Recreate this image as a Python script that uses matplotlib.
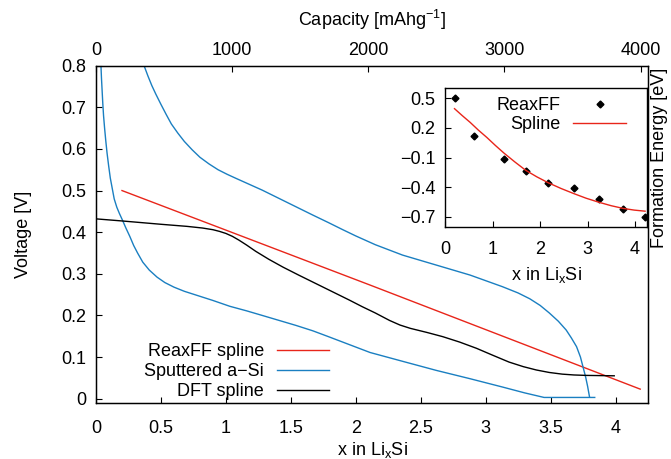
import matplotlib
matplotlib.use('Agg')
import matplotlib.pyplot as plt

plt.rcParams['font.family'] = ['Liberation Sans', 'DejaVu Sans']
plt.rcParams['font.size'] = 13
plt.rcParams['mathtext.default'] = 'regular'

# Voltage profiles vs x in LixSi
reax_x = [0.20, 1.00, 2.11, 3.00, 4.19]
reax_v = [0.500, 0.405, 0.273, 0.166, 0.023]

dft_x = [0.00, 0.20, 0.50, 0.70, 0.82, 0.90, 0.95, 1.00, 1.05, 1.10, 1.16, 1.23,
         1.33, 1.44, 1.56, 1.69, 1.82, 1.95, 2.05, 2.15, 2.26, 2.34, 2.42, 2.55,
         2.67, 2.80, 2.93, 3.05, 3.18, 3.29, 3.39, 3.49, 3.59, 3.68, 3.77, 3.99]
dft_v = [0.432, 0.427, 0.419, 0.414, 0.410, 0.406, 0.402, 0.397, 0.390, 0.381, 0.369, 0.354,
         0.335, 0.316, 0.297, 0.277, 0.257, 0.237, 0.221, 0.206, 0.188, 0.177, 0.169, 0.159,
         0.149, 0.136, 0.121, 0.105, 0.088, 0.077, 0.069, 0.063, 0.059, 0.057, 0.056, 0.055]

# sputtered a-Si: lithiation branch and delithiation branch
sput_dis_x = [0.038, 0.042, 0.047, 0.052, 0.058, 0.066, 0.075, 0.085, 0.097, 0.110,
              0.125, 0.140, 0.160, 0.180, 0.205, 0.230, 0.260, 0.290, 0.320, 0.360,
              0.410, 0.470, 0.530, 0.600, 0.680, 0.770, 0.900, 1.03, 1.16, 1.28,
              1.41, 1.54, 1.67, 1.79, 1.95, 2.11, 2.37, 2.62, 2.88, 3.13, 3.30,
              3.45, 3.84]
sput_dis_v = [0.800, 0.770, 0.740, 0.710, 0.680, 0.650, 0.620, 0.590, 0.560, 0.530,
              0.505, 0.480, 0.460, 0.445, 0.428, 0.410, 0.390, 0.368, 0.350, 0.328,
              0.309, 0.292, 0.279, 0.268, 0.258, 0.249, 0.236, 0.222, 0.211, 0.200,
              0.188, 0.176, 0.163, 0.149, 0.130, 0.111, 0.089, 0.068, 0.048, 0.028, 0.014,
              0.003, 0.003]
sput_chg_x = [0.37, 0.40, 0.43, 0.46, 0.50, 0.54, 0.58, 0.63, 0.68, 0.74, 0.80, 0.87,
              0.94, 1.01, 1.08, 1.18, 1.28, 1.41, 1.54, 1.67, 1.79, 1.90, 2.00, 2.15,
              2.36, 2.62, 2.88, 3.13, 3.25, 3.34, 3.42, 3.49, 3.56, 3.62, 3.66, 3.70,
              3.73, 3.75, 3.77, 3.785, 3.80]
sput_chg_v = [0.800, 0.775, 0.752, 0.732, 0.707, 0.683, 0.660, 0.638, 0.618, 0.598, 0.580, 0.564,
              0.550, 0.539, 0.529, 0.515, 0.501, 0.481, 0.461, 0.441, 0.423, 0.406, 0.391, 0.370,
              0.345, 0.321, 0.297, 0.269, 0.254, 0.240, 0.224, 0.206, 0.186, 0.165, 0.146, 0.125,
              0.100, 0.076, 0.052, 0.030, 0.004]

# inset: formation energy
form_x = [0.20, 0.61, 1.24, 1.70, 2.17, 2.71, 3.24, 3.75, 4.21]
form_e = [0.50, 0.12, -0.115, -0.239, -0.357, -0.41, -0.517, -0.62, -0.70]
fit_x = [0.20, 0.36, 0.53, 0.70, 0.88, 1.06, 1.24, 1.47, 1.70, 1.93, 2.17, 2.44,
         2.71, 2.97, 3.24, 3.50, 3.75, 3.98, 4.21]
fit_e = [0.394, 0.325, 0.255, 0.178, 0.103, 0.022, -0.055, -0.145, -0.23, -0.295, -0.355, -0.413,
         -0.465, -0.512, -0.553, -0.588, -0.615, -0.632, -0.643]

CAP_PER_LI = 954  # mAh/g per Li in LixSi

red = '#e8251a'
blue = '#1a7fc1'


def main():
    fig = plt.figure(figsize=(6.71, 4.59), dpi=100)
    ax = fig.add_axes([0.1431, 0.1214, 0.8226, 0.7355])

    ax.plot(reax_x, reax_v, color=red, lw=1.0, label='ReaxFF spline')
    ax.plot(sput_dis_x, sput_dis_v, color=blue, lw=1.0, label='Sputtered a\u2212Si')
    ax.plot(sput_chg_x, sput_chg_v, color=blue, lw=1.0)
    ax.plot(dft_x, dft_v, color='black', lw=1.0, label='DFT spline')

    ax.set_xlim(0, 4.25)
    ax.set_ylim(-0.011, 0.8)
    ax.set_xticks([0, 0.5, 1, 1.5, 2, 2.5, 3, 3.5, 4])
    ax.set_xticklabels(['0', '0.5', '1', '1.5', '2', '2.5', '3', '3.5', '4'])
    ax.set_yticks([0, 0.1, 0.2, 0.3, 0.4, 0.5, 0.6, 0.7, 0.8])
    ax.set_yticklabels(['0', '0.1', '0.2', '0.3', '0.4', '0.5', '0.6', '0.7', '0.8'])
    ax.tick_params(direction='in', length=4, width=0.8, pad=7, top=False, right=False)
    ax.tick_params(axis='x', pad=12)
    ax.set_xlabel('x in Li$_{x}$Si', labelpad=2)
    ax.set_ylabel('Voltage [V]', labelpad=21)
    for s in ax.spines.values():
        s.set_linewidth(1.0)

    ax.legend(loc='lower left', bbox_to_anchor=(0.068, -0.022), frameon=False,
              markerfirst=False, handlelength=2.9, handletextpad=0.7,
              labelspacing=0.15, borderaxespad=0.2)

    top = ax.twiny()
    top.set_xlim(0, 4.25 * CAP_PER_LI)
    top.set_xticks([0, 1000, 2000, 3000, 4000])
    top.tick_params(direction='in', length=4, width=0.8, pad=5)
    top.set_xlabel('Capacity [mAhg$^{-1}$]', labelpad=11)

    ins = fig.add_axes([0.6632, 0.5061, 0.301, 0.3015])
    ins.plot(form_x, form_e, 'D', color='black', ms=3.5, label='ReaxFF')
    ins.plot(fit_x, fit_e, color=red, lw=1.0, label='Spline')
    ins.set_xlim(0, 4.25)
    ins.set_ylim(-0.8, 0.6)
    ins.set_xticks([0, 1, 2, 3, 4])
    ins.set_yticks([0.5, 0.2, -0.1, -0.4, -0.7])
    ins.tick_params(direction='in', length=4, width=0.8, pad=7)
    ins.tick_params(axis='x', pad=10)
    ins.set_xlabel('x in Li$_{x}$Si', labelpad=5)
    ins.yaxis.set_label_position('right')
    ins.set_ylabel('Formation Energy [eV]', labelpad=3)
    for s in ins.spines.values():
        s.set_linewidth(1.0)
    ins.legend(loc='upper right', bbox_to_anchor=(0.94, 1.0), frameon=False,
               markerfirst=False, handlelength=2.9, handletextpad=0.7,
               labelspacing=0.1, borderaxespad=0.1)

    fig.savefig('out.png', dpi=100)


if __name__ == "__main__":
    main()
